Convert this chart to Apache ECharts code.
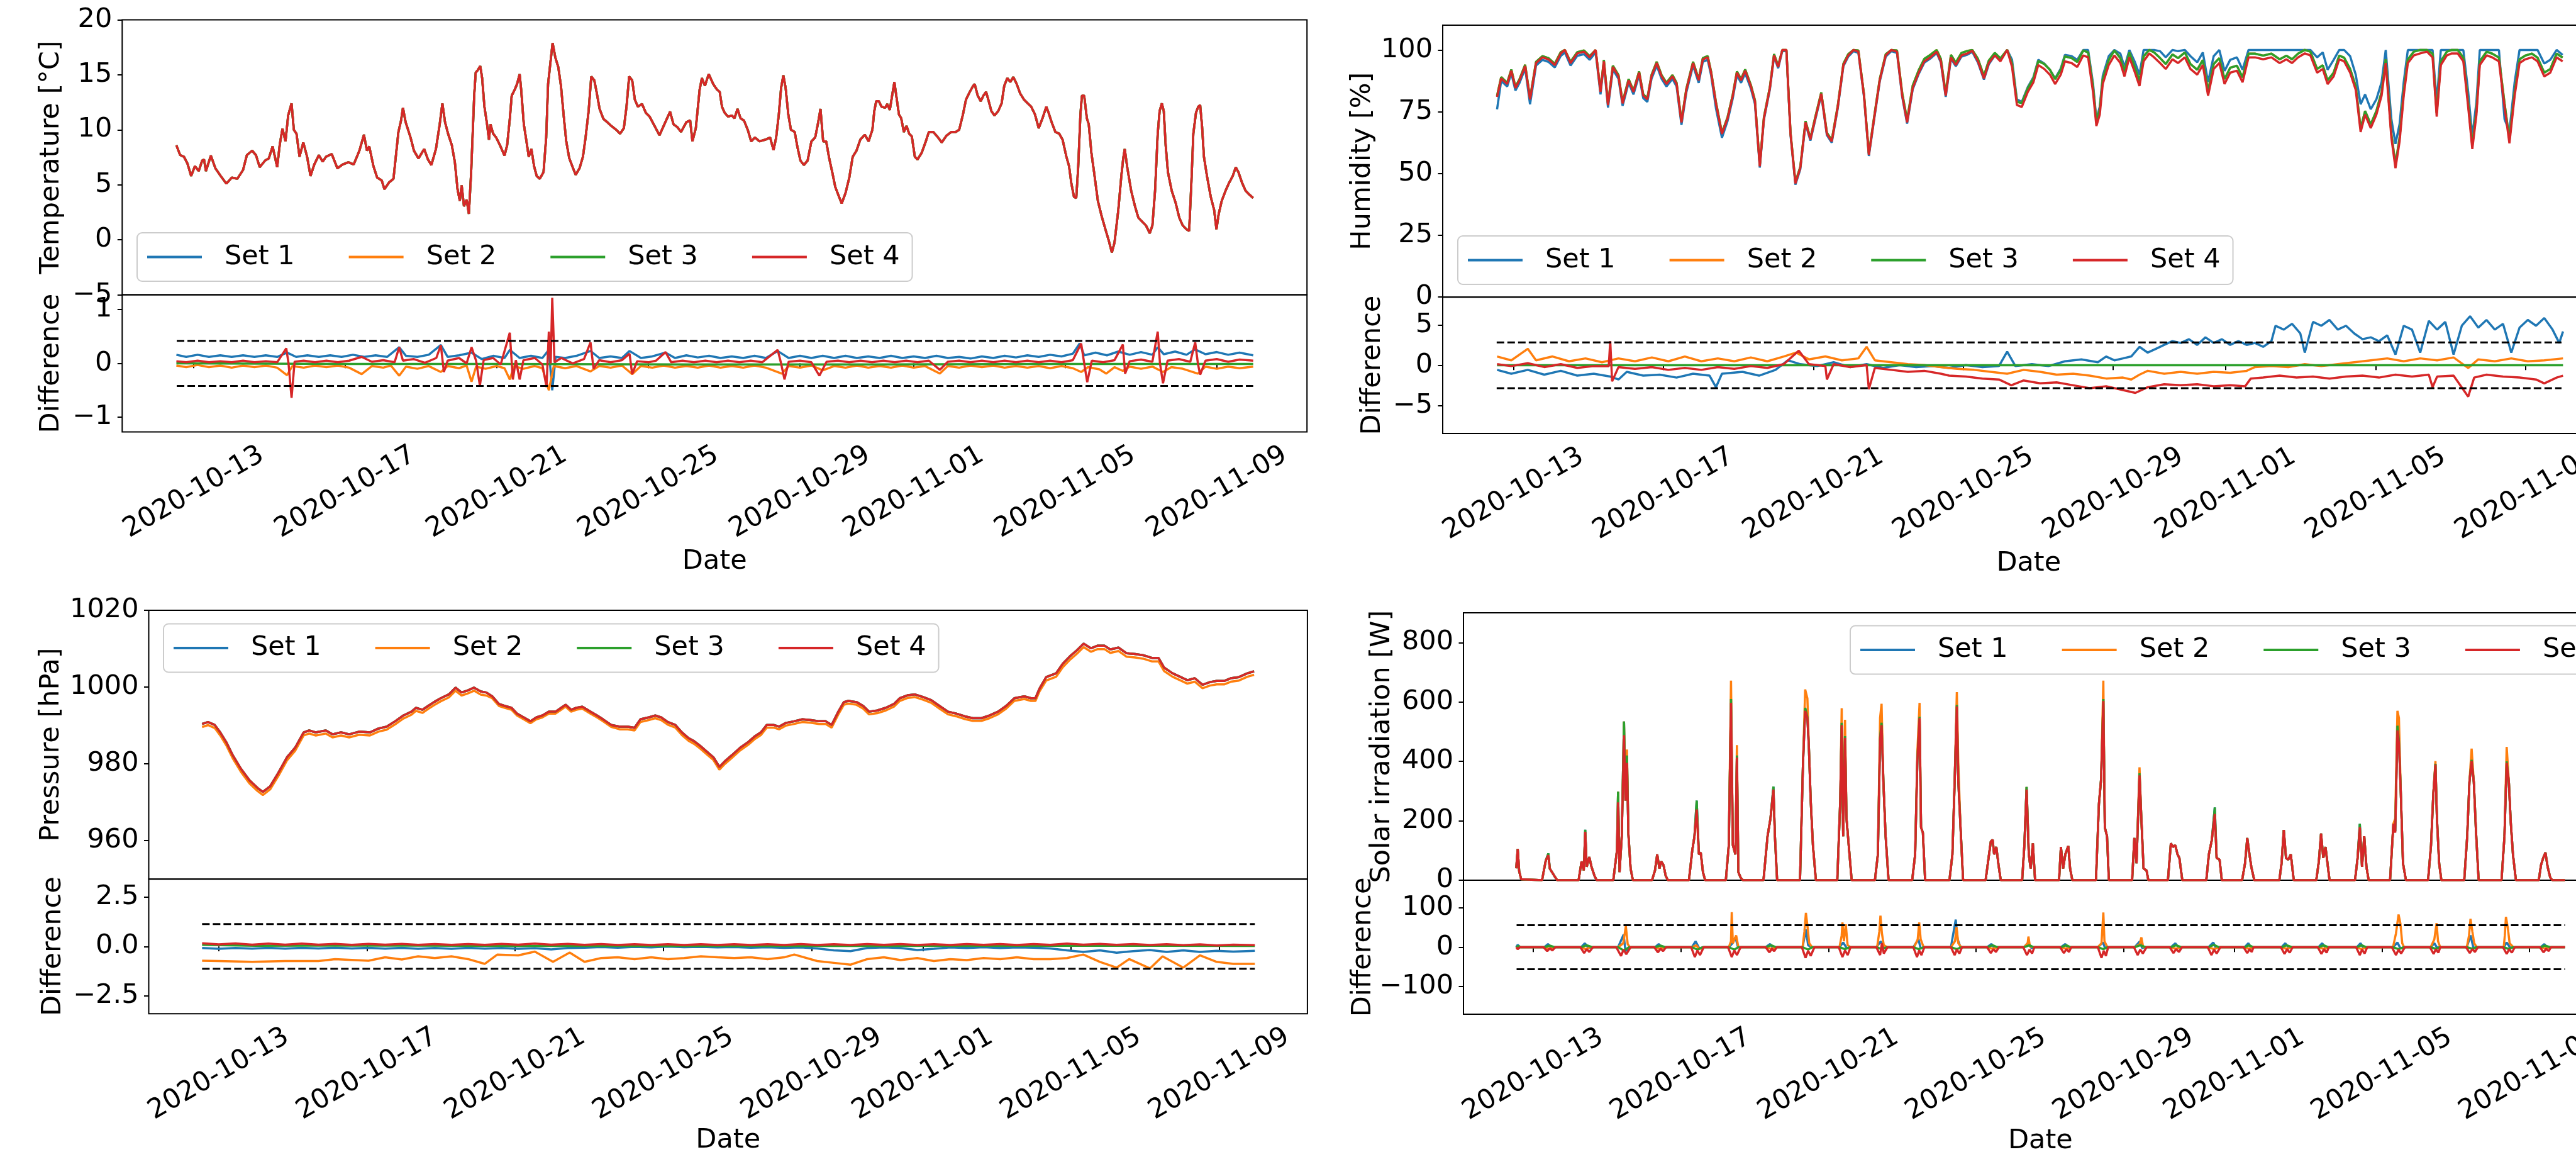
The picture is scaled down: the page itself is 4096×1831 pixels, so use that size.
<!DOCTYPE html>
<html><head><meta charset="utf-8">
<script src="https://cdn.jsdelivr.net/npm/echarts@6/dist/echarts.min.js"></script>
<style>html,body{margin:0;padding:0;background:#fff}#c{width:4096px;height:1831px}</style>
</head><body><div id="c"></div>
<script>
// ---------- axis ranges / ticks (days counted from 2020-10-01 00:00) ----------
const X_MIN = 10.11, X_MAX = 41.38;
const DATE_TICKS = [12, 16, 20, 24, 28, 31, 35, 39];
const LIMIT_SPAN = [11.55, 39.96];
const TEMP_RANGE = [-5, 20], TEMP_TICKS = [-5, 0, 5, 10, 15, 20];
const TEMP_DIFF_RANGE = [-1.275, 1.275], TEMP_DIFF_TICKS = [-1, 0, 1], TEMP_LIMIT = 0.42;
const HUM_RANGE = [0, 110], HUM_TICKS = [0, 25, 50, 75, 100];
const HUM_DIFF_RANGE = [-8.5, 8.5], HUM_DIFF_TICKS = [-5, 0, 5], HUM_LIMIT = 2.85;
const PRES_RANGE = [950, 1020], PRES_TICKS = [960, 980, 1000, 1020];
const PRES_DIFF_RANGE = [-3.4, 3.4], PRES_DIFF_TICKS = [-2.5, 0, 2.5], PRES_LIMIT = 1.13;
const SOL_RANGE = [0, 900], SOL_TICKS = [0, 200, 400, 600, 800];
const SOL_DIFF_RANGE = [-170, 170], SOL_DIFF_TICKS = [-100, 0, 100], SOL_LIMIT = 56;

// ---------- temperature [day, °C] ----------
const temperature = [
[11.54,8.6],[11.64,7.7],[11.74,7.55],[11.83,6.95],[11.93,5.8],[12.03,6.7],[12.13,6.25],[12.22,7.2],[12.27,7.3],[12.32,6.25],
[12.45,7.65],[12.57,6.5],[12.71,5.8],[12.86,5.1],[13.0,5.65],[13.15,5.55],[13.3,6.35],[13.4,7.7],[13.54,8.1],[13.64,7.7],
[13.74,6.6],[13.88,7.2],[13.98,7.4],[14.08,8.5],[14.2,6.6],[14.27,8.7],[14.34,10.1],[14.42,8.95],[14.49,11.3],[14.58,12.4],
[14.64,10],[14.71,9.65],[14.79,7.55],[14.89,8.85],[14.99,7.55],[15.08,5.8],[15.18,6.85],[15.3,7.7],[15.4,7.1],[15.49,7.55],
[15.64,7.8],[15.79,6.5],[15.93,6.85],[16.08,7.05],[16.22,6.85],[16.37,8.1],[16.49,9.55],[16.57,8.1],[16.63,8.5],[16.74,6.7],
[16.84,5.65],[16.96,5.4],[17.03,4.6],[17.15,5.2],[17.27,5.55],[17.4,9.8],[17.47,10.85],[17.52,12],[17.59,10.7],[17.72,9.3],
[17.81,8.1],[17.93,7.4],[18.08,8.25],[18.18,7.3],[18.27,6.8],[18.39,8.25],[18.49,10.5],[18.56,12.4],[18.63,10.7],[18.71,9.65],
[18.81,8.6],[18.89,7.05],[18.96,4.6],[19.02,3.55],[19.07,4.95],[19.13,3.05],[19.2,3.65],[19.26,2.35],[19.32,6.15],[19.4,13.1],
[19.44,15.2],[19.49,15.4],[19.56,15.8],[19.61,14.7],[19.67,12.1],[19.74,10.5],[19.79,9.1],[19.83,10.5],[19.9,9.65],[19.98,9.3],
[20.08,8.6],[20.2,7.65],[20.27,8.6],[20.34,11],[20.39,13.1],[20.47,13.65],[20.53,14.15],[20.6,15.05],[20.64,13.65],[20.71,10.5],
[20.78,8.95],[20.84,7.55],[20.91,8.25],[20.98,6.7],[21.05,5.8],[21.13,5.55],[21.23,6.15],[21.3,9.3],[21.35,14.15],[21.41,16.05],
[21.47,17.9],[21.54,16.6],[21.62,15.7],[21.69,14],[21.77,11],[21.83,8.95],[21.91,7.4],[22.01,6.5],[22.08,5.9],[22.18,6.5],
[22.27,7.55],[22.34,9.3],[22.42,11.7],[22.49,14.85],[22.57,14.5],[22.63,13.45],[22.71,11.9],[22.81,11],[22.91,10.7],[23.02,10.35],
[23.15,10],[23.25,9.65],[23.35,10.15],[23.42,12.1],[23.49,14.85],[23.57,14.5],[23.64,12.75],[23.72,12.1],[23.83,12.35],[23.93,11.55],
[24.03,11.2],[24.16,10.35],[24.29,9.5],[24.42,10.5],[24.57,11.65],[24.66,10.5],[24.76,10.25],[24.86,9.8],[25.0,10.7],[25.1,10.85],
[25.16,8.95],[25.25,10.15],[25.35,13.65],[25.41,14.7],[25.49,14.0],[25.59,15.07],[25.71,14.15],[25.81,13.65],[25.88,13.45],[25.94,12.1],
[26.01,11.55],[26.1,11.2],[26.2,11.3],[26.27,11.05],[26.35,11.9],[26.43,11.05],[26.52,10.85],[26.62,10],[26.71,8.95],[26.81,9.3],
[26.93,8.95],[27.08,9.1],[27.21,9.3],[27.3,8.15],[27.37,9.3],[27.44,11.4],[27.5,13.8],[27.56,14.95],[27.62,13.8],[27.69,11.4],
[27.76,10],[27.86,9.8],[27.93,8.45],[28.01,7.2],[28.1,6.8],[28.2,7.2],[28.3,8.95],[28.4,9.3],[28.48,10.7],[28.54,11.9],
[28.61,8.95],[28.69,8.95],[28.77,7.4],[28.85,6.15],[28.93,4.8],[29.03,3.9],[29.1,3.3],[29.2,4.25],[29.3,5.65],[29.39,7.55],
[29.49,8.1],[29.59,9.1],[29.71,9.55],[29.81,8.95],[29.91,10],[29.96,11.7],[30.01,12.6],[30.08,12.6],[30.15,12.1],[30.25,12],
[30.3,12.35],[30.37,11.8],[30.43,13.1],[30.49,14.35],[30.54,13.1],[30.61,11.4],[30.67,11.05],[30.74,9.8],[30.81,10.35],[30.88,9.65],
[30.95,9.4],[31.03,7.55],[31.1,7.3],[31.21,7.9],[31.32,8.95],[31.4,9.8],[31.52,9.8],[31.62,9.4],[31.74,8.85],[31.86,9.45],
[31.99,9.8],[32.11,9.8],[32.2,10],[32.3,11.4],[32.38,12.75],[32.48,13.45],[32.57,14],[32.61,14.15],[32.69,13.1],[32.77,12.6],
[32.84,13.1],[32.91,13.45],[32.98,12.6],[33.05,11.7],[33.13,11.3],[33.23,11.7],[33.32,12.4],[33.39,14],[33.47,14.7],[33.55,14.35],
[33.63,14.8],[33.72,14.15],[33.81,13.3],[33.91,12.75],[34.01,12.4],[34.1,12.1],[34.2,11.4],[34.3,10.15],[34.4,11.05],[34.5,12.1],
[34.56,11.55],[34.64,10.7],[34.74,9.8],[34.84,9.65],[34.93,9.1],[35.03,7.55],[35.1,6.7],[35.16,5.15],[35.23,3.9],[35.29,3.8],
[35.34,6.5],[35.4,11.4],[35.44,13.1],[35.5,13.1],[35.57,11.05],[35.62,10.5],[35.69,7.9],[35.76,6.15],[35.86,3.55],[35.96,2.15],
[36.06,0.95],[36.15,-0.1],[36.23,-1.15],[36.3,-0.25],[36.4,2.7],[36.48,5.8],[36.53,7.4],[36.57,8.25],[36.64,6.5],[36.74,4.45],
[36.84,3.05],[36.93,2],[37.03,1.65],[37.13,1.3],[37.23,0.6],[37.3,1.3],[37.37,4.45],[37.44,9.65],[37.49,11.7],[37.55,12.4],
[37.6,11.7],[37.65,8.6],[37.71,6.15],[37.81,4.45],[37.91,3.4],[38.01,2],[38.1,1.3],[38.2,0.95],[38.27,0.8],[38.33,5.3],
[38.38,9.65],[38.45,11.55],[38.51,12.1],[38.56,12.25],[38.61,10.35],[38.66,7.55],[38.74,5.8],[38.84,3.9],[38.93,2.7],[38.99,0.95],
[39.05,2.35],[39.13,3.55],[39.23,4.45],[39.32,5.15],[39.42,5.8],[39.5,6.6],[39.57,6.15],[39.67,5.15],[39.76,4.45],[39.86,4.1],[39.96,3.8]
];

// temperature differences [day, °C]
const tdS1 = [[11.54,0.16],[11.8,0.12],[12.1,0.16],[12.4,0.12],[12.7,0.15],[13.0,0.12],[13.3,0.15],[13.6,0.12],[13.9,0.15],[14.2,0.12],[14.46,0.2],[14.7,0.12],[15.0,0.15],[15.3,0.12],[15.6,0.15],[15.9,0.12],[16.2,0.16],[16.5,0.12],[16.8,0.15],[17.1,0.12],[17.42,0.3],[17.6,0.14],[17.9,0.12],[18.2,0.16],[18.52,0.34],[18.7,0.12],[19.0,0.15],[19.33,0.2],[19.6,0.08],[19.9,0.14],[20.2,0.1],[20.34,0.25],[20.6,0.1],[20.9,0.14],[21.2,0.1],[21.37,0.25],[21.46,-0.5],[21.55,0.12],[21.8,0.1],[22.1,0.14],[22.47,0.23],[22.7,0.1],[23.0,0.13],[23.3,0.1],[23.5,0.23],[23.8,0.1],[24.1,0.13],[24.45,0.2],[24.7,0.1],[25.0,0.15],[25.3,0.11],[25.6,0.14],[25.9,0.1],[26.2,0.13],[26.5,0.1],[26.8,0.14],[27.1,0.1],[27.41,0.23],[27.7,0.1],[28.0,0.14],[28.3,0.1],[28.6,0.14],[28.9,0.1],[29.2,0.14],[29.5,0.1],[29.8,0.13],[30.1,0.1],[30.4,0.14],[30.7,0.1],[31.0,0.13],[31.3,0.1],[31.6,0.14],[31.9,0.1],[32.2,0.12],[32.5,0.09],[32.8,0.13],[33.1,0.1],[33.4,0.14],[33.7,0.11],[34.0,0.15],[34.3,0.12],[34.6,0.16],[34.9,0.13],[35.2,0.18],[35.38,0.37],[35.5,0.15],[35.8,0.2],[36.1,0.15],[36.4,0.22],[36.7,0.16],[37.0,0.21],[37.3,0.16],[37.44,0.3],[37.6,0.17],[37.9,0.22],[38.2,0.16],[38.43,0.26],[38.7,0.17],[39.0,0.21],[39.3,0.16],[39.6,0.2],[39.96,0.15]];
const tdS2 = [[11.54,-0.04],[11.8,-0.07],[12.1,-0.03],[12.4,-0.07],[12.7,-0.04],[13.0,-0.08],[13.3,-0.04],[13.6,-0.07],[13.9,-0.04],[14.2,-0.08],[14.46,-0.22],[14.6,-0.05],[14.9,-0.08],[15.2,-0.04],[15.5,-0.07],[15.8,-0.04],[16.1,-0.08],[16.43,-0.2],[16.7,-0.05],[17.0,-0.08],[17.2,-0.04],[17.42,-0.23],[17.6,-0.06],[17.9,-0.1],[18.2,-0.05],[18.52,-0.16],[18.7,-0.05],[19.0,-0.09],[19.2,-0.04],[19.33,-0.34],[19.45,-0.06],[19.7,-0.1],[20.0,-0.05],[20.2,-0.09],[20.34,-0.3],[20.45,-0.05],[20.7,-0.1],[21.0,-0.05],[21.2,-0.09],[21.37,-0.5],[21.5,-0.05],[21.8,-0.09],[22.1,-0.05],[22.47,-0.15],[22.7,-0.05],[23.0,-0.08],[23.3,-0.04],[23.57,-0.2],[23.8,-0.05],[24.1,-0.08],[24.4,-0.04],[24.7,-0.08],[25.0,-0.05],[25.3,-0.08],[25.6,-0.04],[25.9,-0.08],[26.2,-0.05],[26.5,-0.08],[26.8,-0.04],[27.1,-0.08],[27.52,-0.19],[27.7,-0.05],[28.0,-0.08],[28.3,-0.04],[28.6,-0.13],[28.9,-0.05],[29.2,-0.08],[29.5,-0.04],[29.8,-0.08],[30.1,-0.05],[30.4,-0.08],[30.7,-0.04],[31.0,-0.08],[31.3,-0.05],[31.69,-0.19],[31.9,-0.05],[32.2,-0.08],[32.5,-0.04],[32.8,-0.07],[33.1,-0.04],[33.4,-0.08],[33.7,-0.05],[34.0,-0.08],[34.3,-0.05],[34.6,-0.09],[34.9,-0.05],[35.2,-0.09],[35.42,-0.16],[35.6,-0.07],[35.9,-0.11],[36.08,-0.19],[36.3,-0.07],[36.52,-0.14],[36.7,-0.06],[37.0,-0.1],[37.3,-0.06],[37.58,-0.16],[37.8,-0.07],[38.1,-0.1],[38.5,-0.19],[38.7,-0.06],[39.0,-0.1],[39.3,-0.06],[39.6,-0.09],[39.96,-0.06]];
const tdS3 = [[11.54,0.0],[16.0,-0.01],[20.0,-0.01],[25.0,-0.02],[30.0,-0.02],[35.0,-0.01],[39.96,-0.01]];
const tdS4 = [[11.54,0.04],[11.8,0.02],[12.1,0.05],[12.4,0.02],[12.7,0.04],[13.0,0.02],[13.3,0.05],[13.6,0.02],[13.9,0.04],[14.2,0.02],[14.44,0.28],[14.5,0.0],[14.58,-0.64],[14.66,0.03],[14.9,0.05],[15.2,0.02],[15.5,0.05],[15.8,0.02],[16.1,0.05],[16.43,0.12],[16.7,0.03],[17.0,0.06],[17.3,0.02],[17.42,0.3],[17.52,0.05],[17.8,0.08],[18.1,0.01],[18.4,0.1],[18.52,0.34],[18.6,-0.16],[18.7,0.05],[19.0,0.1],[19.2,0.0],[19.33,0.3],[19.45,0.05],[19.55,-0.41],[19.65,0.06],[19.9,0.1],[20.1,-0.02],[20.34,0.57],[20.42,-0.3],[20.5,0.06],[20.6,-0.3],[20.7,0.06],[21.0,0.1],[21.2,-0.02],[21.31,-0.44],[21.37,0.59],[21.42,0.0],[21.46,1.22],[21.52,0.02],[21.7,0.1],[22.0,0.0],[22.3,0.08],[22.47,0.39],[22.55,-0.1],[22.7,0.06],[23.0,0.02],[23.3,0.06],[23.5,0.18],[23.57,-0.2],[23.7,0.04],[24.0,0.02],[24.2,0.05],[24.45,0.21],[24.6,0.02],[24.9,0.05],[25.2,0.02],[25.5,0.05],[25.8,0.02],[26.1,0.05],[26.4,0.02],[26.7,0.05],[27.0,0.02],[27.41,0.25],[27.5,0.0],[27.59,-0.3],[27.7,0.03],[28.0,0.05],[28.3,0.02],[28.51,-0.23],[28.7,0.03],[29.0,0.05],[29.3,0.02],[29.6,0.05],[29.9,0.02],[30.2,0.05],[30.5,0.02],[30.8,0.05],[31.1,0.02],[31.4,0.05],[31.69,-0.12],[31.9,0.03],[32.2,0.05],[32.5,0.02],[32.8,0.05],[33.1,0.02],[33.4,0.05],[33.7,0.02],[34.0,0.05],[34.3,0.02],[34.6,0.05],[34.9,0.02],[35.2,0.06],[35.42,0.37],[35.5,0.0],[35.58,-0.35],[35.7,0.05],[36.0,0.02],[36.3,0.06],[36.52,0.35],[36.58,-0.19],[36.7,0.04],[37.0,0.07],[37.3,0.03],[37.44,0.59],[37.5,0.0],[37.58,-0.37],[37.7,0.05],[38.0,0.08],[38.3,0.03],[38.43,0.39],[38.5,0.0],[38.56,-0.21],[38.7,0.05],[39.0,0.08],[39.3,0.03],[39.6,0.07],[39.96,0.05]];

// ---------- humidity [%] ----------
const humT = [11.56,11.67,11.83,11.94,12.05,12.16,12.31,12.44,12.6,12.77,12.93,13.1,13.26,13.37,13.52,13.7,13.88,14.03,14.19,14.32,
14.41,14.52,14.65,14.8,14.91,15.07,15.2,15.35,15.46,15.57,15.68,15.82,15.95,16.08,16.24,16.35,16.48,16.61,16.79,16.94,
17.05,17.18,17.27,17.4,17.56,17.71,17.85,17.96,18.07,18.18,18.33,18.44,18.57,18.68,18.84,18.95,19.06,19.17,19.28,19.39,
19.52,19.65,19.79,19.92,20.05,20.21,20.36,20.49,20.65,20.8,20.93,21.07,21.2,21.35,21.48,21.62,21.77,21.93,22.08,22.23,
22.37,22.5,22.65,22.81,22.96,23.12,23.29,23.4,23.53,23.67,23.8,23.95,24.11,24.24,24.39,24.55,24.68,24.84,24.99,25.17,
25.3,25.43,25.56,25.72,25.87,26.0,26.16,26.31,26.45,26.6,26.71,26.89,27.04,27.2,27.33,27.46,27.55,27.64,27.72,27.88,
28.03,28.19,28.3,28.43,28.58,28.7,28.81,28.96,29.09,29.25,29.4,29.58,29.73,29.91,30.06,30.24,30.39,30.53,30.68,30.83,
30.97,31.12,31.3,31.45,31.61,31.78,32.0,32.22,32.44,32.62,32.77,32.93,33.11,33.26,33.44,33.59,33.72,33.88,34.03,34.16,
34.32,34.47,34.6,34.72,34.87,35.02,35.16,35.27,35.42,35.53,35.64,35.75,35.86,36.02,36.19,36.37,36.52,36.63,36.74,36.9,
37.03,37.19,37.34,37.47,37.58,37.69,37.78,37.96,38.11,38.29,38.44,38.57,38.71,38.84,38.99,39.17,39.32,39.5,39.66,39.83,39.99];
const humS4 = [81,88.5,86.2,91.6,84.6,87.7,93.5,80,94.7,97,96.2,93.9,98.6,100,94.7,98.6,99.3,97,100,83,
95.4,77.7,93.1,89.3,78.4,87.7,83,90.8,81.5,80,89.3,94.7,89.3,86.2,89.3,86.2,70.7,83.8,94.7,87.7,
96.2,97,90.8,78.4,66,72.3,81.5,90.8,87.7,91.6,85.4,79.2,52.9,72.3,84.6,97.8,93.1,100,100,66,
46,52.2,70.7,63.8,72.3,82.3,66,63,76.9,93.9,97.8,100,99.3,81.5,57.6,72.3,87.7,97.8,100,99.3,
81.5,70.7,84.6,90.8,95.4,97,99.3,95.4,81.5,97,93.9,97.8,98.6,99.7,95.4,88.5,94.7,97.8,95.4,100,
93.1,77.7,76.9,83,86.9,93.9,92.3,90,86.2,90,95.4,94.7,93.1,97.8,97,83,69.2,73.8,86.2,93.9,
97.8,94.7,89.3,97,90.8,85.4,95.4,98.6,97,94.7,92.3,96.2,94.7,97,92.3,90,93.9,81.5,92.3,94.7,
86.2,90.8,91.6,86.9,97,97,96.2,97,94.7,96.2,94.7,97,98.6,97.8,90.8,92.3,86.2,89.3,96.2,95.4,
90.8,83.8,66.8,73.8,68.4,73.8,81.5,94.7,64.5,52.2,63,81.5,94.7,97.8,98.6,99.3,97,73,93.9,97.8,
98.6,98.6,95.4,76.9,59.9,73.8,93.9,97.8,97,95.4,76.9,62.2,81.5,94.7,96.2,97,95.4,89.3,90.8,97,95.4];
const humS1 = [76,87.5,85.2,90.6,83.6,86.7,92.5,78,93.7,96,95.2,92.9,97.6,99,93.7,97.6,98.3,96,99,82,
94.4,76.7,92.1,88.3,77.4,86.7,82,89.8,80.5,79,88.3,93.7,88.3,85.2,88.3,85.2,69.7,82.8,93.7,86.7,
95.2,96,89.8,76.4,64.5,71.3,80.5,89.8,86.7,90.6,84.4,78.2,52.4,71.8,84.1,97.3,92.6,99.5,99.5,65.5,
45.5,51.7,70.2,63.3,71.8,81.8,65.5,62.5,76.4,93.4,97.3,99.5,98.8,81,57.1,71.8,87.2,97.3,99.5,98.8,
81,70.2,84.1,90.3,94.9,96.5,98.8,94.9,81,96.5,93.4,97.3,98.1,99.2,94.9,88,94.2,97.8,96,100,
96,80,79,85,89,96,94.5,92,88.5,92.5,98,97.5,96,100,100,86.5,72,77,89.5,97.5,
100,98.5,93,100,95,90,100,100,100,99.5,97,100,99.5,100,97.5,95,99,87,97.5,100,
91.5,96,97,92,100,100,100,100,100,100,100,100,100,100,97,99,92,96,100,100,
97.5,90,78,82,76,80,87,100,72,62,70,87,100,100,100,100,100,79,100,100,
100,100,100,83,65,79,100,100,100,100,72,67,87,100,100,100,100,94.5,96,100,98];
const humS3 = [81.5,89,86.7,92.1,85.1,88.2,94,80.5,95.2,97.5,96.7,94.4,99.1,100,95.2,99.1,99.8,97.5,100,83.5,
95.9,78.2,93.6,89.8,78.9,88.2,83.5,91.3,82,80.5,89.8,95.2,89.8,86.7,89.8,86.7,71.2,84.3,95.2,88.2,
96.7,97.5,91.3,78.9,66.5,72.8,82,91.3,88.2,92.1,85.9,79.7,53.4,72.8,85.1,98.3,93.6,100,100,66.5,
46.5,52.7,71.2,64.3,72.8,82.8,66.5,63.5,77.4,94.4,98.3,100,99.8,82,58.1,72.8,88.2,98.3,100,99.8,
82.5,71.7,85.6,91.8,96.4,98,100,96.4,82.5,98,94.9,98.8,99.6,100,96.4,89.5,95.7,98.8,96.6,100,
94.5,79,78.5,84.5,88.5,95.5,94.3,92,88.2,92,97.4,96.7,95.1,99.8,99,85,71,75.8,88.2,95.9,
99.8,96.7,91.3,99,92.8,87.4,97.4,100,99,96.7,94.3,98.2,96.7,99,94.3,92,95.9,83.5,94.3,96.7,
88.2,92.8,93.6,88.9,98.5,98.5,97.7,98.5,96.2,97.7,96.2,98.5,100,99.3,92.3,93.8,87.7,90.8,97.7,96.9,
92.3,85.3,68.3,75.3,69.9,75.3,83,96.2,66,53.7,64.5,83,96.2,99.3,100,100,98.5,74.5,95.4,99.3,
100,100,96.9,78.4,61.4,75.3,95.4,99.3,98.5,96.9,78.4,63.7,83,96.2,97.7,98.5,96.9,90.8,92.3,98.5,96.9];

// humidity differences [day, %]
const hdS1 = [[11.56,-0.57],[11.94,-1.05],[12.38,-0.57],[12.82,-1.17],[13.26,-0.69],[13.7,-1.29],[14.14,-1.05],[14.58,-1.41],[14.8,-1.77],[15.02,-0.81],[15.46,-1.29],[15.9,-1.17],[16.35,-1.53],[16.79,-1.05],[17.23,-1.29],[17.4,-2.73],[17.56,-1.05],[18.11,-0.81],[18.55,-1.29],[18.99,-0.57],[19.32,0.62],[19.65,0.14],[20.1,-0.1],[20.54,0.38],[20.98,-0.22],[21.42,0.14],[21.86,-0.33],[22.3,0.02],[22.74,-0.22],[23.18,-0.1],[23.62,-0.33],[24.07,0.02],[24.51,-0.22],[24.95,-0.1],[25.17,1.7],[25.39,-0.1],[25.83,0.14],[26.27,-0.1],[26.71,0.5],[27.15,0.74],[27.59,0.38],[27.81,1.1],[28.03,0.62],[28.26,0.86],[28.48,1.1],[28.7,2.3],[28.92,1.58],[29.14,2.06],[29.36,2.54],[29.58,3.01],[29.8,2.78],[30.02,3.25],[30.24,2.54],[30.46,3.49],[30.68,2.78],[30.9,3.25],[31.12,2.54],[31.34,3.01],[31.56,2.54],[31.78,2.78],[32.0,2.3],[32.22,3.01],[32.33,4.93],[32.55,4.45],[32.77,5.17],[32.99,3.97],[33.11,1.58],[33.33,5.41],[33.55,4.93],[33.77,5.65],[33.99,4.45],[34.21,4.93],[34.43,3.97],[34.65,3.25],[34.87,3.49],[35.09,3.01],[35.31,3.73],[35.53,1.34],[35.75,4.93],[35.97,4.45],[36.19,1.58],[36.42,5.53],[36.64,4.45],[36.86,5.41],[37.08,1.34],[37.3,4.93],[37.52,6.12],[37.74,4.69],[37.96,5.65],[38.18,4.45],[38.4,5.17],[38.62,1.58],[38.84,4.69],[39.06,5.65],[39.28,4.93],[39.5,5.89],[39.72,4.45],[39.9,2.78],[40.0,4.21]];
const hdS2 = [[11.56,1.1],[11.94,0.62],[12.38,2.06],[12.6,0.62],[13.04,1.1],[13.48,0.5],[13.92,0.86],[14.36,0.38],[14.8,0.86],[15.24,0.5],[15.69,0.98],[16.13,0.5],[16.57,1.1],[17.01,0.5],[17.45,0.86],[17.89,0.5],[18.33,0.98],[18.77,0.5],[19.21,1.1],[19.54,1.58],[19.88,0.74],[20.32,1.1],[20.76,0.62],[21.2,0.86],[21.42,2.3],[21.64,0.62],[22.08,0.38],[22.52,0.14],[22.96,0.02],[23.4,-0.22],[23.84,-0.45],[24.29,-0.57],[24.73,-0.81],[25.17,-1.05],[25.61,-0.57],[26.05,-0.81],[26.49,-1.17],[26.93,-1.05],[27.37,-1.29],[27.81,-1.65],[28.26,-1.53],[28.48,-1.77],[28.7,-1.17],[28.92,-0.69],[29.36,-1.05],[29.8,-0.81],[30.24,-1.05],[30.68,-0.81],[31.12,-0.93],[31.56,-0.69],[31.78,-0.22],[32.22,-0.1],[32.67,-0.22],[33.11,0.14],[33.55,-0.1],[33.99,0.14],[34.43,0.38],[34.87,0.62],[35.31,0.86],[35.75,0.5],[36.19,0.86],[36.64,0.62],[37.08,0.98],[37.47,-0.33],[37.74,0.74],[38.18,0.5],[38.62,0.86],[39.06,0.5],[39.5,0.62],[40.0,0.86]];
const hdS3 = [[11.56,0],[40.0,0]];
const hdS4 = [[11.56,0.14],[11.94,-0.1],[12.38,0.26],[12.82,-0.22],[13.26,0.14],[13.7,-0.33],[14.14,-0.1],[14.54,-0.1],[14.58,3.01],[14.63,-2.0],[14.8,-0.22],[15.24,-0.45],[15.69,-0.22],[16.13,-0.57],[16.57,-0.33],[17.01,-0.57],[17.45,-0.22],[17.89,-0.45],[18.33,-0.1],[18.77,-0.33],[19.21,0.14],[19.61,1.82],[19.88,0.14],[20.32,-0.1],[20.36,-1.77],[20.54,0.14],[20.98,-0.22],[21.42,0.02],[21.48,-2.97],[21.64,-0.33],[22.08,-0.57],[22.52,-0.81],[22.96,-0.69],[23.4,-1.05],[23.62,-1.29],[24.07,-1.41],[24.51,-1.65],[24.95,-1.77],[25.28,-2.49],[25.61,-1.89],[26.05,-2.25],[26.49,-2.13],[26.93,-2.49],[27.37,-2.85],[27.81,-2.61],[28.26,-3.09],[28.59,-3.44],[28.92,-2.73],[29.36,-2.37],[29.8,-2.49],[30.24,-2.37],[30.68,-2.61],[31.12,-2.49],[31.52,-2.61],[31.67,-1.65],[32.0,-1.53],[32.44,-1.29],[32.89,-1.53],[33.33,-1.41],[33.77,-1.65],[34.21,-1.41],[34.65,-1.29],[35.09,-1.53],[35.53,-1.17],[35.97,-1.41],[36.42,-1.17],[36.52,-2.73],[36.64,-1.41],[37.08,-1.29],[37.47,-3.92],[37.63,-1.53],[37.96,-1.17],[38.4,-1.41],[38.84,-1.53],[39.28,-1.77],[39.5,-2.25],[39.83,-1.53],[40.0,-1.29]];

// ---------- pressure [hPa] ----------
const presT = [11.55,11.71,11.89,12.04,12.2,12.38,12.6,12.83,13.05,13.19,13.39,13.61,13.84,14.06,14.29,14.44,14.62,14.89,15.07,15.3,
15.52,15.79,16.08,16.31,16.53,16.76,16.98,17.2,17.32,17.5,17.65,17.81,17.99,18.21,18.39,18.55,18.71,18.89,19.07,19.22,
19.38,19.56,19.72,19.9,20.05,20.23,20.41,20.57,20.73,20.91,21.09,21.24,21.36,21.51,21.65,21.81,22.03,22.21,22.37,22.59,
22.82,23.04,23.22,23.38,23.6,23.78,23.94,24.12,24.32,24.5,24.68,24.83,24.99,25.17,25.35,25.51,25.66,25.84,26.07,26.29,
26.47,26.63,26.79,26.97,27.12,27.3,27.53,27.75,27.98,28.2,28.38,28.54,28.72,28.87,28.99,29.21,29.39,29.55,29.77,30.0,
30.22,30.38,30.6,30.78,31.01,31.23,31.45,31.68,31.9,32.13,32.35,32.58,32.8,33.03,33.25,33.47,33.74,33.92,34.04,34.15,
34.33,34.6,34.78,34.98,35.16,35.34,35.54,35.72,35.9,36.06,36.28,36.5,36.73,36.95,37.18,37.36,37.51,37.74,37.96,38.14,
38.34,38.55,38.75,38.93,39.13,39.31,39.53,39.76,39.94];
const presS4 = [990.4,990.9,990.15,988.2,985.7,982.2,978.7,975.7,973.7,972.7,974.2,977.7,981.7,984.2,988.2,988.7,988.2,988.7,987.7,988.2,
987.7,988.4,988.2,989.2,989.7,991.1,992.6,993.6,994.6,994.1,995.1,996.1,997.1,998.1,999.85,998.6,999.1,999.85,998.85,998.6,
997.6,995.6,995.1,994.6,993.1,992.1,991.1,992.1,992.6,993.6,993.6,994.6,995.4,994.1,994.6,994.9,993.6,992.6,991.6,990.15,
989.7,989.7,989.4,991.6,992.1,992.6,992.1,990.9,990.15,988.2,986.7,985.9,984.7,983.2,981.7,979.2,980.7,982.2,984.2,985.7,
987.2,988.2,990.15,990.15,989.7,990.65,991.1,991.6,991.4,991.1,991.1,990.15,993.6,996.1,996.4,996.1,995.1,993.6,993.9,994.6,
995.6,997.1,997.9,998.1,997.4,996.6,995.1,993.6,993.1,992.4,991.9,991.9,992.6,993.6,995.1,997.1,997.6,997.1,997.1,999.6,
1002.6,1003.6,1006.1,1008.1,1009.6,1011.3,1010.1,1010.8,1010.8,1009.8,1010.3,1008.8,1008.6,1008.3,1007.6,1007.6,1005.1,1003.6,1002.6,1001.8,
1002.3,1000.6,1001.3,1001.6,1001.6,1002.3,1002.6,1003.6,1004.1];
const presS2 = [989.6,990.1,989.35,987.4,984.9,981.4,977.9,974.9,972.9,971.9,973.4,976.9,980.9,983.4,987.4,987.9,987.4,987.9,986.9,987.4,
986.9,987.6,987.4,988.4,988.9,990.3,991.8,992.8,993.8,993.3,994.3,995.3,996.3,997.3,999.05,997.8,998.3,999.05,998.05,997.8,
997.1,995.1,994.6,994.1,992.6,991.6,990.6,991.6,992.1,993.1,993.1,994.1,994.9,993.6,994.1,994.4,993.1,992.1,991.1,989.65,
989.0,989.0,988.7,990.9,991.4,991.9,991.4,990.2,989.45,987.5,986.0,985.2,984.0,982.5,981.0,978.5,980.0,981.5,983.5,985.0,
986.5,987.5,989.45,989.45,989.0,989.95,990.4,990.9,990.7,990.4,990.4,989.45,992.9,995.4,995.7,995.4,994.4,992.9,993.2,993.9,
994.9,996.4,997.2,997.4,996.7,995.9,994.4,992.9,992.4,991.7,991.2,991.2,991.9,992.9,994.4,996.4,996.9,996.4,996.4,998.9,
1001.7,1002.7,1005.2,1007.2,1008.7,1010.4,1009.2,1009.9,1009.9,1008.9,1009.4,1007.9,1007.7,1007.4,1006.7,1006.7,1004.2,1002.7,1001.7,1000.9,
1001.4,999.7,1000.4,1000.7,1000.7,1001.4,1001.7,1002.7,1003.2];

// pressure differences [day, hPa]
const pdS1 = [[11.55,-0.08],[12.0,-0.12],[12.45,-0.08],[12.9,-0.11],[13.34,-0.07],[13.79,-0.11],[14.24,-0.07],[14.69,-0.1],[15.14,-0.06],[15.59,-0.1],[16.04,-0.07],[16.49,-0.11],[16.94,-0.07],[17.38,-0.12],[17.83,-0.08],[18.28,-0.12],[18.73,-0.07],[19.18,-0.11],[19.63,-0.08],[20.08,-0.12],[20.53,-0.09],[20.97,-0.15],[21.42,-0.08],[21.87,-0.06],[22.32,-0.03],[22.77,-0.06],[23.22,-0.02],[23.67,-0.05],[24.12,-0.01],[24.56,-0.04],[25.01,-0.02],[25.46,-0.05],[25.91,-0.03],[26.36,-0.06],[26.81,-0.04],[27.26,-0.07],[27.71,-0.05],[28.15,-0.1],[28.6,-0.2],[29.05,-0.24],[29.5,-0.08],[29.95,-0.05],[30.4,-0.08],[30.85,-0.18],[31.3,-0.12],[31.74,-0.05],[32.19,-0.08],[32.64,-0.04],[33.09,-0.08],[33.54,-0.05],[33.99,-0.06],[34.44,-0.1],[34.89,-0.2],[35.33,-0.28],[35.78,-0.2],[36.23,-0.32],[36.68,-0.24],[37.13,-0.18],[37.58,-0.28],[38.03,-0.2],[38.48,-0.28],[38.93,-0.22],[39.38,-0.26],[39.96,-0.22]];
const pdS2 = [[11.55,-0.72],[12.0,-0.74],[12.9,-0.78],[13.79,-0.74],[14.69,-0.74],[15.14,-0.64],[16.04,-0.72],[16.49,-0.55],[16.94,-0.66],[17.38,-0.5],[17.83,-0.59],[18.28,-0.5],[18.73,-0.64],[19.18,-0.88],[19.52,-0.41],[20.08,-0.45],[20.53,-0.26],[21.02,-0.78],[21.47,-0.31],[21.87,-0.78],[22.32,-0.59],[22.77,-0.55],[23.22,-0.64],[23.67,-0.55],[24.12,-0.64],[24.56,-0.59],[25.01,-0.5],[25.46,-0.55],[25.91,-0.59],[26.36,-0.55],[26.81,-0.64],[27.26,-0.55],[27.53,-0.41],[28.15,-0.74],[28.6,-0.83],[29.05,-0.92],[29.5,-0.64],[29.95,-0.55],[30.4,-0.69],[30.85,-0.59],[31.3,-0.74],[31.74,-0.64],[32.19,-0.69],[32.64,-0.59],[33.09,-0.64],[33.54,-0.55],[33.99,-0.64],[34.44,-0.64],[34.89,-0.59],[35.33,-0.41],[35.78,-0.78],[36.23,-1.07],[36.57,-0.64],[37.13,-1.11],[37.47,-0.5],[38.03,-1.07],[38.48,-0.45],[38.93,-0.78],[39.38,-0.88],[39.96,-0.88]];
const pdS3 = [[11.55,0.08],[13.0,0.03],[16.0,0.05],[20.0,0.02],[25.0,0.03],[30.0,0.02],[35.0,0.04],[39.96,0.02]];
const pdS4 = [[11.55,0.16],[12.0,0.1],[12.45,0.15],[12.9,0.09],[13.34,0.14],[13.79,0.09],[14.24,0.14],[14.69,0.09],[15.14,0.13],[15.59,0.08],[16.04,0.13],[16.49,0.09],[16.94,0.13],[17.38,0.08],[17.83,0.12],[18.28,0.08],[18.73,0.12],[19.18,0.08],[19.63,0.13],[20.08,0.09],[20.53,0.14],[20.97,0.09],[21.42,0.13],[21.87,0.08],[22.32,0.12],[22.77,0.07],[23.22,0.11],[23.67,0.07],[24.12,0.11],[24.56,0.07],[25.01,0.11],[25.46,0.07],[25.91,0.11],[26.36,0.07],[26.81,0.11],[27.26,0.07],[27.71,0.12],[28.15,0.07],[28.6,0.11],[29.05,0.07],[29.5,0.12],[29.95,0.08],[30.4,0.12],[30.85,0.07],[31.3,0.11],[31.74,0.07],[32.19,0.12],[32.64,0.08],[33.09,0.12],[33.54,0.07],[33.99,0.12],[34.44,0.08],[34.89,0.14],[35.33,0.09],[35.78,0.13],[36.23,0.08],[36.68,0.12],[37.13,0.07],[37.58,0.11],[38.03,0.06],[38.48,0.1],[38.93,0.05],[39.38,0.09],[39.96,0.06]];

// ---------- solar irradiation [W] ----------
const solT = [
11.54,11.58,11.62,11.675,11.7,
12.24,12.28,12.34,12.41,12.45,12.51,12.57,12.65,
13.23,13.31,13.37,13.41,13.45,13.52,13.58,13.66,13.72,
14.17,14.27,14.3,14.34,14.4,14.46,14.5,14.54,14.58,14.64,14.7,
15.22,15.3,15.36,15.42,15.47,15.53,15.59,15.65,
16.22,16.31,16.37,16.43,16.49,16.54,16.6,16.66,
17.22,17.3,17.36,17.41,17.48,17.52,17.56,17.62,17.68,
18.24,18.35,18.43,18.51,18.55,18.61,
19.23,19.31,19.37,19.43,19.47,19.52,19.58,19.66,
20.24,20.32,20.36,20.4,20.45,20.49,20.55,20.63,
21.26,21.34,21.4,21.44,21.49,21.55,21.63,
22.27,22.35,22.41,22.47,22.51,22.56,22.62,
23.28,23.36,23.42,23.48,23.52,23.58,23.65,
24.26,24.34,24.4,24.45,24.49,24.55,24.61,24.67,
25.25,25.31,25.37,25.43,25.48,25.54,25.6,
26.25,26.3,26.36,26.42,26.5,26.55,26.61,
27.25,27.33,27.39,27.45,27.49,27.55,27.6,
28.23,28.29,28.35,28.43,28.48,28.54,28.62,28.67,
29.2,29.28,29.34,29.4,29.46,29.51,29.59,
30.24,30.31,30.39,30.47,30.52,30.6,30.66,
31.21,31.29,31.35,31.41,31.46,31.54,
32.22,32.28,32.34,32.4,32.46,32.53,32.61,
33.22,33.29,33.35,33.41,33.47,33.53,33.58,
34.27,34.34,34.4,34.46,34.52,34.58,34.64,
35.22,35.31,35.36,35.42,35.46,35.51,35.57,35.65,
36.25,36.33,36.39,36.45,36.49,36.55,36.61,
37.23,37.31,37.37,37.43,37.49,37.55,37.62,
38.24,38.32,38.38,38.44,38.49,38.55,38.63,
39.25,39.31,39.37,39.43,39.49,39.56,39.62,39.96];
const solS4 = [
40,105,30,3,0,
0,27,66,84,39,27,15,0,
0,63,33,163,45,78,45,15,0,
0,100,262,27,148,488,268,395,154,39,0,
0,33,87,39,63,51,15,0,
0,100,148,238,87,93,27,0,
0,118,597,118,87,413,27,9,0,
0,148,208,305,148,0,
0,389,570,546,449,268,118,0,
0,268,522,148,479,208,118,0,
0,87,473,522,329,148,0,
0,87,401,546,178,160,0,
0,87,329,585,329,178,0,
0,75,130,136,87,112,51,0,
0,118,305,87,39,124,0,
0,112,39,87,115,39,0,
0,256,341,603,178,148,0,
0,142,57,353,208,39,33,0,
0,124,112,118,87,75,0,
0,87,136,223,75,69,0,
0,57,142,87,45,0,
0,57,169,75,69,87,0,
0,63,157,75,112,51,0,
0,75,178,45,148,45,0,
0,190,160,504,461,298,57,0,
0,118,286,389,208,57,0,
0,148,329,401,329,160,0,
0,148,395,329,196,87,0,
0,51,75,93,45,9,0,0];
const solS2 = [
40,105,30,3,0,
0,27,66,84,39,27,15,0,
0,63,33,163,45,78,45,15,0,
0,100,298,27,148,534,268,440,154,39,0,
0,33,87,39,63,51,15,0,
0,100,148,238,87,93,27,0,
0,118,672,118,87,455,27,9,0,
0,148,208,305,148,0,
0,389,642,612,449,268,118,0,
0,268,579,148,540,208,118,0,
0,87,546,594,329,148,0,
0,87,431,597,178,160,0,
0,87,329,633,389,178,0,
0,75,130,136,87,112,51,0,
0,118,314,87,39,124,0,
0,112,39,87,115,39,0,
0,256,341,672,178,148,0,
0,142,57,380,208,39,33,0,
0,124,112,118,87,75,0,
0,87,136,223,75,69,0,
0,57,142,87,45,0,
0,57,169,75,69,87,0,
0,63,157,75,112,51,0,
0,75,178,45,148,45,0,
0,190,208,570,546,298,57,0,
0,118,286,401,208,57,0,
0,148,329,443,329,160,0,
0,148,449,329,196,87,0,
0,51,75,93,45,9,0,0];
const solS13 = [
40,105,30,3,0,
0,27,66,90,39,27,15,0,
0,63,33,170,45,78,45,15,0,
0,100,298,27,148,534,268,420,154,39,0,
0,33,87,39,63,51,15,0,
0,100,148,268,87,93,27,0,
0,118,610,118,87,420,27,9,0,
0,148,208,315,148,0,
0,389,580,550,449,268,118,0,
0,268,530,148,485,208,118,0,
0,87,480,530,329,148,0,
0,87,405,550,178,160,0,
0,87,329,590,335,178,0,
0,75,130,136,87,112,51,0,
0,118,314,87,39,124,0,
0,112,39,87,115,39,0,
0,256,341,610,178,148,0,
0,142,57,360,208,39,33,0,
0,124,112,118,87,75,0,
0,87,136,245,75,69,0,
0,57,142,87,45,0,
0,57,169,75,69,87,0,
0,63,157,75,112,51,0,
0,75,190,45,148,45,0,
0,190,165,520,470,298,57,0,
0,118,286,392,208,57,0,
0,148,329,405,329,160,0,
0,148,400,329,196,87,0,
0,51,75,93,45,9,0,0];

// solar differences [day, W]
const sdS1 = [[11.54,0],[11.58,6],[11.64,0],[12.3,0],[12.4,8],[12.5,-2],[12.58,0],[13.3,0],[13.4,10],[13.5,-2],[13.6,0],[14.3,0],[14.45,32],[14.5,-10],[14.6,0],[15.3,0],[15.4,8],[15.5,-2],[15.58,0],[16.3,0],[16.4,15],[16.5,-3],[16.6,0],[17.3,0],[17.4,10],[17.48,25],[17.55,0],[18.3,0],[18.42,8],[18.5,-2],[18.58,0],[19.3,0],[19.39,45],[19.45,5],[19.55,0],[20.3,0],[20.4,12],[20.5,-3],[20.58,0],[21.3,0],[21.42,15],[21.5,-3],[21.58,0],[22.3,0],[22.44,20],[22.5,-3],[22.58,0],[23.32,0],[23.45,70],[23.5,20],[23.58,0],[24.3,0],[24.42,8],[24.5,-2],[24.58,0],[25.3,0],[25.4,10],[25.5,-2],[25.56,0],[26.3,0],[26.42,8],[26.5,-2],[26.56,0],[27.3,0],[27.44,12],[27.5,-3],[27.56,0],[28.3,0],[28.44,15],[28.5,-2],[28.58,0],[29.28,0],[29.4,10],[29.5,-2],[29.56,0],[30.3,0],[30.43,12],[30.5,-2],[30.58,0],[31.28,0],[31.38,10],[31.46,-2],[31.52,0],[32.28,0],[32.38,10],[32.48,-2],[32.56,0],[33.28,0],[33.38,10],[33.48,-2],[33.55,0],[34.32,0],[34.42,10],[34.5,-2],[34.58,0],[35.3,0],[35.42,12],[35.5,-3],[35.6,0],[36.32,0],[36.42,10],[36.5,-2],[36.57,0],[37.3,0],[37.4,30],[37.48,-2],[37.57,0],[38.3,0],[38.38,12],[38.48,-2],[38.56,0],[39.3,0],[39.4,8],[39.48,-2],[39.56,0],[39.96,0]];
const sdS2 = [[11.54,0],[11.58,-3],[11.64,0],[12.3,0],[12.42,-4],[12.55,0],[13.3,0],[13.42,-5],[13.55,0],[14.3,0],[14.44,10],[14.51,53],[14.56,8],[14.62,0],[15.3,0],[15.42,-4],[15.55,0],[16.3,0],[16.42,5],[16.5,-5],[16.6,0],[17.3,0],[17.36,15],[17.38,89],[17.41,10],[17.5,30],[17.56,0],[18.3,0],[18.45,-4],[18.58,0],[19.3,0],[19.35,40],[19.39,87],[19.43,55],[19.48,10],[19.56,0],[20.3,0],[20.36,30],[20.38,63],[20.42,15],[20.47,58],[20.52,5],[20.6,0],[21.32,0],[21.38,40],[21.41,80],[21.45,35],[21.5,5],[21.6,0],[22.32,0],[22.42,20],[22.46,63],[22.5,20],[22.58,0],[23.32,0],[23.43,15],[23.47,51],[23.52,10],[23.6,0],[24.3,0],[24.45,-4],[24.58,0],[25.3,0],[25.4,10],[25.42,27],[25.46,2],[25.56,0],[26.3,0],[26.45,-4],[26.56,0],[27.3,0],[27.4,10],[27.45,88],[27.48,15],[27.56,0],[28.3,0],[28.44,8],[28.48,25],[28.53,0],[28.6,0],[29.28,0],[29.42,-4],[29.55,0],[30.3,0],[30.45,-5],[30.58,0],[31.28,0],[31.4,-4],[31.5,0],[32.28,0],[32.42,-4],[32.55,0],[33.28,0],[33.42,-4],[33.54,0],[34.32,0],[34.45,-5],[34.58,0],[35.3,0],[35.38,35],[35.45,83],[35.5,60],[35.55,10],[35.6,0],[36.32,0],[36.42,20],[36.48,61],[36.52,15],[36.58,0],[37.3,0],[37.36,30],[37.4,72],[37.45,40],[37.5,10],[37.57,0],[38.3,0],[38.33,30],[38.36,77],[38.41,50],[38.46,10],[38.56,0],[39.3,0],[39.42,-3],[39.55,0],[39.96,0]];
const sdS3 = [[11.54,0],[11.6,3],[11.66,0],[12.3,0],[12.45,4],[12.58,0],[13.3,0],[13.45,5],[13.6,0],[14.3,0],[14.45,-8],[14.6,0],[15.3,0],[15.45,4],[15.58,0],[16.3,0],[16.45,-6],[16.6,0],[17.3,0],[17.45,-6],[17.56,0],[18.3,0],[18.45,5],[18.58,0],[19.3,0],[19.45,-6],[19.56,0],[20.3,0],[20.45,-5],[20.58,0],[21.3,0],[21.45,-5],[21.58,0],[22.3,0],[22.45,-5],[22.58,0],[23.32,0],[23.48,-5],[23.6,0],[24.3,0],[24.45,5],[24.58,0],[25.3,0],[25.45,5],[25.56,0],[26.3,0],[26.45,5],[26.56,0],[27.3,0],[27.45,-5],[27.56,0],[28.3,0],[28.45,5],[28.6,0],[29.28,0],[29.42,5],[29.56,0],[30.3,0],[30.45,6],[30.58,0],[31.28,0],[31.4,5],[31.52,0],[32.28,0],[32.42,5],[32.56,0],[33.28,0],[33.42,5],[33.55,0],[34.32,0],[34.45,5],[34.58,0],[35.3,0],[35.45,-5],[35.6,0],[36.32,0],[36.45,-4],[36.57,0],[37.3,0],[37.45,-4],[37.57,0],[38.3,0],[38.42,-4],[38.56,0],[39.3,0],[39.42,4],[39.56,0],[39.96,0]];
const sdS4 = [[11.54,0],[11.58,-5],[11.64,0],[12.28,0],[12.38,-10],[12.45,-3],[12.52,-8],[12.6,0],[13.28,0],[13.38,-15],[13.45,-5],[13.52,-12],[13.62,0],[14.25,0],[14.38,-22],[14.45,-6],[14.52,-18],[14.64,0],[15.28,0],[15.38,-13],[15.45,-4],[15.52,-10],[15.6,0],[16.28,0],[16.38,-25],[16.45,-8],[16.52,-20],[16.62,0],[17.28,0],[17.38,-25],[17.45,-8],[17.52,-20],[17.62,0],[18.3,0],[18.4,-13],[18.47,-4],[18.53,-10],[18.6,0],[19.28,0],[19.38,-27],[19.45,-9],[19.52,-22],[19.62,0],[20.28,0],[20.38,-25],[20.45,-8],[20.52,-20],[20.6,0],[21.3,0],[21.4,-20],[21.45,10],[21.5,-16],[21.6,0],[22.3,0],[22.4,-25],[22.46,-8],[22.52,-20],[22.6,0],[23.32,0],[23.42,-20],[23.48,-6],[23.55,-16],[23.62,0],[24.3,0],[24.4,-15],[24.47,-5],[24.54,-12],[24.62,0],[25.28,0],[25.38,-20],[25.45,-6],[25.52,-16],[25.58,0],[26.28,0],[26.38,-15],[26.45,-5],[26.52,-12],[26.58,0],[27.3,0],[27.4,-27],[27.46,-9],[27.52,-22],[27.58,0],[28.28,0],[28.38,-20],[28.45,-6],[28.52,-16],[28.62,0],[29.25,0],[29.35,-15],[29.42,-5],[29.5,-12],[29.58,0],[30.28,0],[30.38,-20],[30.45,-6],[30.52,-16],[30.62,0],[31.25,0],[31.35,-15],[31.41,-5],[31.47,-12],[31.52,0],[32.26,0],[32.36,-17],[32.43,-5],[32.5,-14],[32.58,0],[33.26,0],[33.36,-17],[33.43,-5],[33.5,-14],[33.56,0],[34.3,0],[34.4,-20],[34.46,-6],[34.53,-16],[34.6,0],[35.27,0],[35.38,-20],[35.45,-6],[35.52,-16],[35.62,0],[36.3,0],[36.4,-17],[36.46,-5],[36.53,-14],[36.58,0],[37.28,0],[37.38,-15],[37.45,-5],[37.52,-12],[37.6,0],[38.28,0],[38.38,-17],[38.45,-5],[38.52,-14],[38.6,0],[39.28,0],[39.38,-13],[39.45,-4],[39.52,-10],[39.58,0],[39.96,0]];

// ---------- chart construction ----------
const FONT = 'DejaVu Sans';
const BLACK = '#000000';
const COLORS = ['#1f77b4', '#ff7f0e', '#2ca02c', '#d62728'];
const SETS = ['Set 1', 'Set 2', 'Set 3', 'Set 4'];
const FS = 43;
const zip = (t, v) => t.map((x, i) => [x, v[i]]);
const minus = s => String(s).replace('-', '\u2212');
const fmtDate = d => new Date(Date.UTC(2020, 9, 1) + Math.round(d) * 86400000).toISOString().slice(0, 10);

const panels = [
  { box: {left: 194.3, top: 31.5, width: 1883.9, hMain: 437, hDiff: 218.1},
    yMain: TEMP_RANGE, ticksMain: TEMP_TICKS, yDiff: TEMP_DIFF_RANGE, ticksDiff: TEMP_DIFF_TICKS, dec: 0,
    nameMain: 'Temperature [°C]', gapMain: 91, gapDiff: 91, gapDate: 185,
    main: [temperature, temperature, temperature, temperature], diff: [tdS1, tdS2, tdS3, tdS4], limit: TEMP_LIMIT,
    legend: {left: 218, top: 370} },
  { box: {left: 2294, top: 40.1, width: 1863.6, hMain: 432.1, hDiff: 216.8},
    yMain: HUM_RANGE, ticksMain: HUM_TICKS, yDiff: HUM_DIFF_RANGE, ticksDiff: HUM_DIFF_TICKS, dec: 0,
    nameMain: 'Humidity [%]', gapMain: 106, gapDiff: 90, gapDate: 185,
    main: [zip(humT, humS1), zip(humT, humS3), zip(humT, humS3), zip(humT, humS4)], diff: [hdS1, hdS2, hdS3, hdS4], limit: HUM_LIMIT,
    legend: {left: 2318, top: 375} },
  { box: {left: 236.5, top: 970, width: 1842.4, hMain: 427.2, hDiff: 214.1},
    yMain: PRES_RANGE, ticksMain: PRES_TICKS, yDiff: PRES_DIFF_RANGE, ticksDiff: PRES_DIFF_TICKS, dec: 1,
    nameMain: 'Pressure [hPa]', gapMain: 133, gapDiff: 130, gapDate: 180,
    main: [zip(presT, presS4), zip(presT, presS2), zip(presT, presS4), zip(presT, presS4)], diff: [pdS1, pdS2, pdS3, pdS4], limit: PRES_LIMIT,
    legend: {left: 260, top: 991.5} },
  { box: {left: 2327, top: 974.1, width: 1834.8, hMain: 424.9, hDiff: 213},
    yMain: SOL_RANGE, ticksMain: SOL_TICKS, yDiff: SOL_DIFF_RANGE, ticksDiff: SOL_DIFF_TICKS, dec: 0,
    nameMain: 'Solar irradiation [W]', gapMain: 108, gapDiff: 130, gapDate: 180,
    main: [zip(solT, solS13), zip(solT, solS2), zip(solT, solS13), zip(solT, solS4)], diff: [sdS1, sdS2, sdS3, sdS4], limit: SOL_LIMIT,
    legend: {left: 2942, top: 994.6} }
];

const txt = {fontSize: FS, fontFamily: FONT, color: BLACK};
function yAxis(gi, range, ticks, name, gap, dec) {
  return {
    type: 'value', gridIndex: gi, min: range[0], max: range[1],
    axisLine: {show: false}, splitLine: {show: false},
    axisTick: {show: true, customValues: ticks, length: 7.5, lineStyle: {color: BLACK, width: 2}},
    axisLabel: {show: true, customValues: ticks, margin: 16, ...txt,
      formatter: v => minus(dec ? Number(v).toFixed(dec) : String(v))},
    name: name, nameLocation: 'middle', nameRotate: 90, nameGap: gap,
    nameTextStyle: {...txt, lineHeight: FS}
  };
}

const grids = [], xAxes = [], yAxes = [], series = [], legends = [];
panels.forEach((p, k) => {
  const gm = 2 * k, gd = 2 * k + 1;
  const b = p.box;
  const gridStyle = {show: true, borderColor: BLACK, borderWidth: 2, backgroundColor: 'transparent',
    containLabel: false, outerBoundsMode: 'none'};
  grids.push({left: b.left, top: b.top, width: b.width, height: b.hMain, ...gridStyle});
  grids.push({left: b.left, top: b.top + b.hMain, width: b.width, height: b.hDiff, ...gridStyle});
  xAxes.push({type: 'value', gridIndex: gm, min: X_MIN, max: X_MAX, show: false});
  xAxes.push({type: 'value', gridIndex: gd, min: X_MIN, max: X_MAX,
    axisLine: {show: false}, splitLine: {show: false},
    axisTick: {show: true, customValues: DATE_TICKS, length: 7.7, lineStyle: {color: BLACK, width: 2}},
    axisLabel: {show: true, customValues: DATE_TICKS, formatter: fmtDate, rotate: 30, align: 'center', verticalAlign: 'middle',
      margin: 96, hideOverlap: false, ...txt},
    name: 'Date', nameLocation: 'middle', nameGap: p.gapDate, nameTextStyle: {...txt, lineHeight: FS}});
  yAxes.push(yAxis(gm, p.yMain, p.ticksMain, p.nameMain, p.gapMain, 0));
  yAxes.push(yAxis(gd, p.yDiff, p.ticksDiff, 'Difference', p.gapDiff, p.dec));
  for (let s = 0; s < 4; s++) {
    series.push({type: 'line', name: SETS[s], xAxisIndex: gm, yAxisIndex: gm, data: p.main[s],
      symbol: 'none', showSymbol: false, silent: true, animation: false,
      lineStyle: {width: 3.5, color: COLORS[s]}, itemStyle: {color: COLORS[s]}});
  }
  for (let s = 0; s < 4; s++) {
    series.push({type: 'line', name: SETS[s], xAxisIndex: gd, yAxisIndex: gd, data: p.diff[s],
      symbol: 'none', showSymbol: false, silent: true, animation: false,
      lineStyle: {width: 3.5, color: COLORS[s]}, itemStyle: {color: COLORS[s]}});
  }
  [p.limit, -p.limit].forEach(v => {
    series.push({type: 'line', name: 'limit', xAxisIndex: gd, yAxisIndex: gd,
      data: [[LIMIT_SPAN[0], v], [LIMIT_SPAN[1], v]],
      symbol: 'none', showSymbol: false, silent: true, animation: false,
      lineStyle: {width: 3, color: BLACK, type: [12, 5]}});
  });
  legends.push({data: SETS, left: p.legend.left, top: p.legend.top, width: 1300, orient: 'horizontal',
    icon: 'rect', itemWidth: 87, itemHeight: 4, itemGap: 86, selectedMode: false,
    padding: [17, 20, 17, 16], backgroundColor: 'rgba(255,255,255,0.8)',
    borderColor: '#cccccc', borderWidth: 2, borderRadius: 8,
    textStyle: {...txt, lineHeight: FS, padding: [0, 0, 0, 31]}});
});

const chart = echarts.init(document.getElementById('c'), null, {renderer: 'canvas', width: 4096, height: 1831});
chart.setOption({
  animation: false, backgroundColor: '#ffffff', color: COLORS,
  grid: grids, xAxis: xAxes, yAxis: yAxes, legend: legends, series: series
});
</script></body></html>
